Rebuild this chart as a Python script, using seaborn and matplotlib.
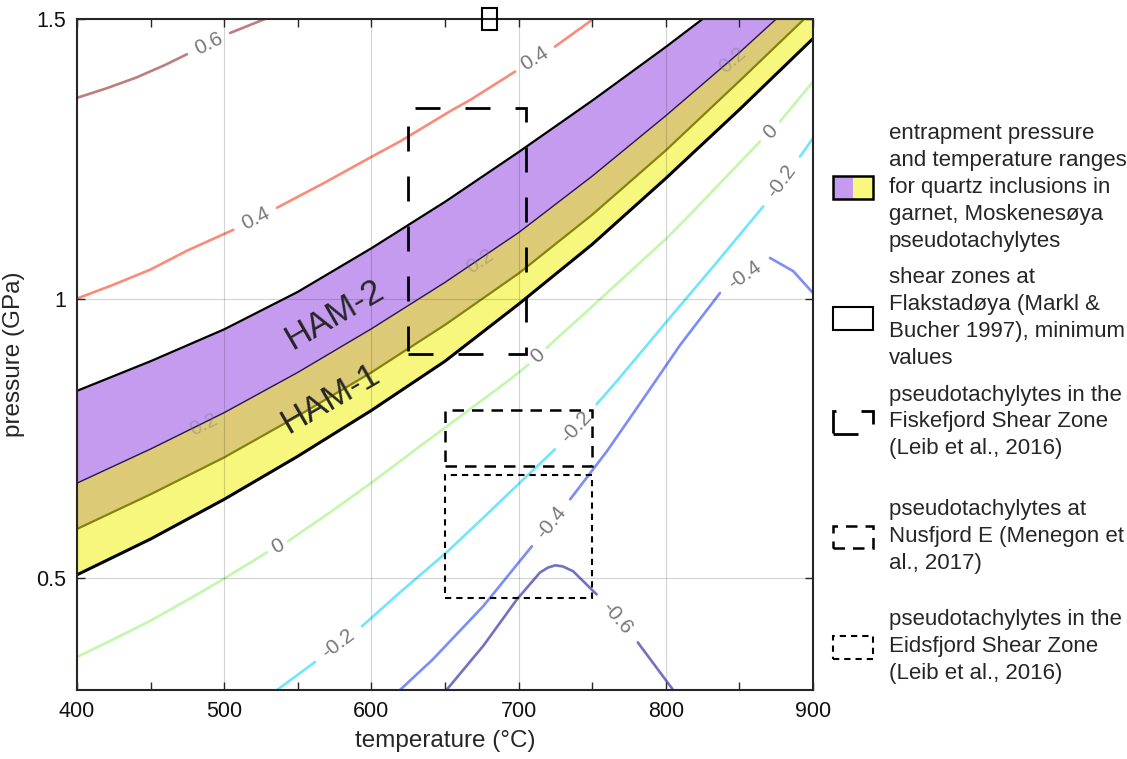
import numpy as np
import pandas as pd
import seaborn as sns
import matplotlib
matplotlib.use('Agg')
import matplotlib.pyplot as plt
from matplotlib.patches import Rectangle, Patch
from matplotlib.legend_handler import HandlerBase
from matplotlib.ticker import MultipleLocator

sns.set_style('ticks')
plt.rcParams['font.family'] = ['Liberation Sans', 'DejaVu Sans']

# entrapment bands, pressure (GPa) read at these temperatures (°C)
band_T = [400, 450, 500, 550, 600, 650, 700, 750, 800, 850, 900]
ham2_top = [0.835, 0.888, 0.945, 1.012, 1.090, 1.173, 1.262, 1.354, 1.450, 1.550, 1.655]
ham2_bottom = [0.588, 0.650, 0.716, 0.790, 0.868, 0.953, 1.045, 1.150, 1.265, 1.389, 1.515]
ham1_top = [0.670, 0.731, 0.796, 0.868, 0.946, 1.029, 1.118, 1.219, 1.327, 1.440, 1.560]
ham1_bottom = [0.506, 0.570, 0.641, 0.718, 0.800, 0.888, 0.990, 1.097, 1.215, 1.338, 1.465]

# contour lines: pieces of (T, P), the labels sit in the gaps between pieces
contour_m06 = [([645, 651, 676, 699, 714.5, 720, 725, 730, 737, 753],
                [0.28, 0.30, 0.379, 0.4625, 0.510, 0.519, 0.523, 0.521, 0.5125, 0.471]),
               ([781, 805, 808], [0.385, 0.30, 0.29])]
contour_m04 = [([610, 619.4, 641.8, 676, 709], [0.28, 0.30, 0.355, 0.45, 0.557]),
               ([735, 760, 785, 810, 836.8], [0.641, 0.727, 0.822, 0.918, 1.010]),
               ([870.8, 886.6, 900], [1.0727, 1.049, 1.01])]
contour_m02 = [([530, 535.9, 561.7], [0.289, 0.30, 0.35]),
               ([593.6, 619.4, 651, 676, 701, 724.7], [0.414, 0.4745, 0.546, 0.608, 0.671, 0.7304]),
               ([753, 767.7, 800, 835, 866.2], [0.811, 0.8554, 0.957, 1.066, 1.1648]),
               ([891.2, 900], [1.254, 1.287])]
contour_0 = [([400, 425, 450, 475, 500.5, 529], [0.359, 0.391, 0.424, 0.461, 0.50, 0.546]),
             ([543.3, 571, 600.2, 633, 650, 694, 706.7], [0.566, 0.616, 0.671, 0.736, 0.769, 0.855, 0.882]),
             ([719, 750, 800.6, 816.4, 840, 864], [0.912, 0.986, 1.108, 1.15, 1.215, 1.281]),
             ([877.6, 900], [1.3166, 1.388])]
contour_p04 = [([400, 425, 450, 475, 506.2], [1.0, 1.025, 1.052, 1.086, 1.123]),
               ([535.9, 568, 600.4, 619.4, 655, 667, 697.6], [1.1625, 1.207, 1.254, 1.281, 1.3375, 1.355, 1.406]),
               ([724.7, 749.7, 760], [1.4506, 1.498, 1.52])]
contour_p06 = [([400, 420, 440, 460, 474.7], [1.359, 1.376, 1.395, 1.418, 1.437]),
               ([504, 527.7, 540], [1.475, 1.50, 1.515])]
contour_levels = ['-0.6', '-0.4', '-0.2', '0', '0.4', '0.6']
contour_colors = ['#7272c2', '#7c8cf8', '#6fe6fb', '#c3f7ac', '#fa8b78', '#bf7d7d']

# labels of the 0.2 contour, which is hidden under the bands
label02_T = [486, 674, 845]
label02_P = [0.775, 1.066, 1.426]

# literature P-T boxes
box_names = ['Flakstadøya', 'Fiskefjord', 'Nusfjord', 'Eidsfjord']
box_T0 = [675, 625, 650, 650]
box_T1 = [685, 705, 750, 750]
box_P0 = [1.48, 0.90, 0.70, 0.465]
box_P1 = [1.52, 1.34, 0.80, 0.685]
box_styles = [dict(ls='-', lw=1.5), dict(ls=(0, (9, 9)), lw=2.0),
              dict(ls=(0, (4.6, 3.2)), lw=1.8), dict(ls=(0, (3.0, 2.4)), lw=1.5)]

legend_labels = ['entrapment pressure\nand temperature ranges\nfor quartz inclusions in\ngarnet, Moskenesøya\npseudotachylytes',
                 'shear zones at\nFlakstadøya (Markl &\nBucher 1997), minimum\nvalues',
                 'pseudotachylytes in the\nFiskefjord Shear Zone\n(Leib et al., 2016)',
                 'pseudotachylytes at\nNusfjord E (Menegon et\nal., 2017)',
                 'pseudotachylytes in the\nEidsfjord Shear Zone\n(Leib et al., 2016)']

purple = '#c59bef'
yellow = '#f2f213'
gray = '#787878'
dark = '#262626'

fig = plt.figure(figsize=(11.27, 7.59), dpi=100)
ax = fig.add_axes([77 / 1127, 69 / 759, 736 / 1127, 671 / 759])
ax.set_xlim(400, 900)
ax.set_ylim(0.3, 1.5)

# contour lines through seaborn
contours = dict(zip(contour_levels, [contour_m06, contour_m04, contour_m02, contour_0, contour_p04, contour_p06]))
rows = []
for lvl, pieces in contours.items():
    for i, (t, p) in enumerate(pieces):
        for tt, pp in zip(t, p):
            rows.append((lvl, lvl + '_' + str(i), tt, pp))
df = pd.DataFrame(rows, columns=['level', 'piece', 'T', 'P'])
sns.lineplot(data=df, x='T', y='P', hue='level', units='piece', estimator=None, sort=False,
             palette=dict(zip(contour_levels, contour_colors)), linewidth=1.9, legend=False,
             ax=ax, zorder=1.6)


def angle_between(a, b):
    (x0, y0), (x1, y1) = ax.transData.transform([a, b])
    ang = np.degrees(np.arctan2(y1 - y0, x1 - x0))
    if ang > 90:
        ang -= 180
    if ang < -90:
        ang += 180
    return ang


for lvl, pieces in contours.items():
    for (t0, p0), (t1, p1) in zip(pieces[:-1], pieces[1:]):
        a = (t0[-1], p0[-1])
        b = (t1[0], p1[0])
        ax.text((a[0] + b[0]) / 2, (a[1] + b[1]) / 2, lvl, rotation=angle_between(a, b),
                rotation_mode='anchor', ha='center', va='center', color=gray, fontsize=15, zorder=4)

# bands
ax.fill_between(band_T, ham2_bottom, ham2_top, color=purple, lw=0, zorder=1.7)
ax.plot(band_T, ham2_top, color='black', lw=1.6, zorder=1.75)
ax.plot(band_T, ham2_bottom, color='black', lw=1.6, zorder=1.75)
ax.fill_between(band_T, ham1_bottom, ham1_top, color=yellow, alpha=0.55, lw=0, zorder=1.8)
ax.plot(band_T, ham1_top, color='#2b1840', lw=1.0, zorder=1.85)
ax.plot(band_T, ham1_bottom, color='black', lw=2.2, zorder=1.85)

for t, p in zip(label02_T, label02_P):
    rot = angle_between((t - 12, np.interp(t - 12, band_T, ham1_top)),
                        (t + 12, np.interp(t + 12, band_T, ham1_top)))
    ax.text(t, p, '0.2', rotation=rot, rotation_mode='anchor', ha='center', va='center',
            color=gray, alpha=0.4, fontsize=15, zorder=4)

ax.text(575, 0.971, 'HAM-2', rotation=30, ha='center', va='center', fontsize=25, zorder=4)
ax.text(572, 0.82, 'HAM-1', rotation=30, ha='center', va='center', fontsize=25, zorder=4)

for i in range(len(box_names)):
    ax.add_patch(Rectangle((box_T0[i], box_P0[i]), box_T1[i] - box_T0[i], box_P1[i] - box_P0[i],
                           fill=False, ec='black', zorder=5, clip_on=(i != 0), **box_styles[i]))

ax.set_xticks(range(400, 901, 100))
ax.xaxis.set_minor_locator(MultipleLocator(50))
ax.set_yticks([0.5, 1, 1.5])
ax.set_yticklabels(['0.5', '1', '1.5'])
ax.tick_params(which='both', direction='in', top=True, right=True, length=5.8, width=1.0,
               color=dark, labelsize=15.5, pad=8, labelcolor='#111111')
for s in ax.spines.values():
    s.set_linewidth(1.5)
    s.set_color(dark)
ax.set_axisbelow(False)
ax.grid(True, which='major', color=dark, alpha=0.2, lw=0.8)
ax.set_xlabel('temperature (°C)', fontsize=17.5, labelpad=6)
ax.set_ylabel('pressure (GPa)', fontsize=17.5, labelpad=8)


class SplitBoxHandler(HandlerBase):
    def create_artists(self, legend, orig_handle, xdescent, ydescent, width, height, fontsize, trans):
        x0, y0 = -xdescent, -ydescent
        left = Rectangle((x0, y0), width / 2, height, fc=purple, ec='none', transform=trans)
        right = Rectangle((x0 + width / 2, y0), width / 2, height, fc='#f8f87d', ec='none', transform=trans)
        frame = Rectangle((x0, y0), width, height, fc='none', ec='black', lw=1.8, transform=trans)
        return [left, right, frame]


band_handle = Patch()
handles = [band_handle, Rectangle((0, 0), 1, 1, fc='white', ec='black', lw=1.5)]
for st in box_styles[1:]:
    handles.append(Rectangle((0, 0), 1, 1, fill=False, ec='black', **st))

# two legend blocks: the lower entries sit further apart in the original
leg_kw = dict(loc='upper left', frameon=False, fontsize=16, handlelength=1.8, handleheight=1.2,
              handletextpad=0.7, borderpad=0, borderaxespad=0,
              handler_map={band_handle: SplitBoxHandler()})
leg1 = fig.legend(handles[:3], legend_labels[:3], bbox_to_anchor=(833 / 1127, 1 - 123 / 759),
                  labelspacing=0.7, **leg_kw)
leg2 = fig.legend(handles[3:], legend_labels[3:], bbox_to_anchor=(833 / 1127, 1 - 499 / 759),
                  labelspacing=1.6, **leg_kw)
for leg in (leg1, leg2):
    for txt in leg.get_texts():
        txt.set_linespacing(1.37)

fig.savefig('out.png', dpi=100)
